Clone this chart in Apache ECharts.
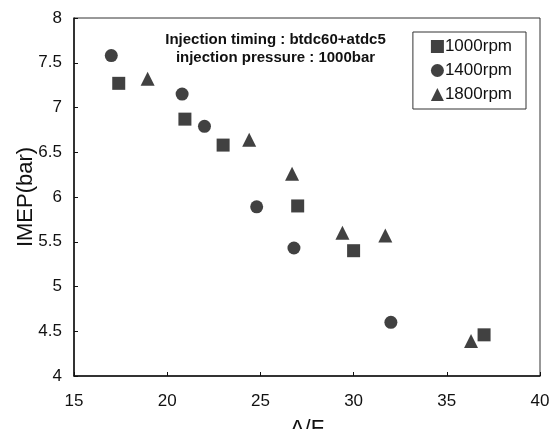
<!DOCTYPE html>
<html>
<head>
<meta charset="utf-8">
<script src="https://cdn.jsdelivr.net/npm/echarts@6/dist/echarts.min.js"></script>
<style>html,body{margin:0;padding:0;background:#fff;}#c{width:551px;height:429px;}</style>
</head>
<body>
<div id="c"></div>
<script>
var rpm1000 = [[17.4,7.27],[20.95,6.87],[23.0,6.58],[27.0,5.90],[30.0,5.40],[37.0,4.46]];
var rpm1400 = [[17.0,7.58],[20.8,7.15],[22.0,6.79],[24.8,5.89],[26.8,5.43],[32.0,4.60]];
var rpm1800 = [[18.95,7.32],[24.4,6.64],[26.7,6.26],[29.4,5.60],[31.7,5.57],[36.3,4.39]];
var seriesNames = ['1000rpm','1400rpm','1800rpm'];
var annotation = ['Injection timing : btdc60+atdc5','injection pressure : 1000bar'];

var chart = echarts.init(document.getElementById('c'), null, {renderer:'canvas'});
var font = 'Liberation Sans, Arial, sans-serif';
chart.setOption({
  animation:false,
  backgroundColor:'#fff',
  grid:{left:74,right:11,top:18,bottom:53,show:true,borderColor:'#333',borderWidth:1,
    containLabel:false,outerBoundsMode:'none'},
  xAxis:{type:'value',min:15,max:40,interval:5,name:'A/F',nameLocation:'middle',nameGap:42,
    nameMoveOverlap:false,
    nameTextStyle:{fontSize:22,color:'#111',fontFamily:font},
    axisLine:{lineStyle:{color:'#111',width:1.5}},
    axisTick:{inside:true,length:4,lineStyle:{color:'#111'}},
    axisLabel:{fontSize:17,color:'#111',fontFamily:font,margin:17},
    splitLine:{show:false}},
  yAxis:{type:'value',min:4,max:8,interval:0.5,name:'IMEP(bar)',nameLocation:'middle',nameGap:37,nameRotate:90,
    nameMoveOverlap:false,
    nameTextStyle:{fontSize:22,color:'#111',fontFamily:font},
    axisLine:{lineStyle:{color:'#111',width:1.5}},
    axisTick:{inside:true,length:4,lineStyle:{color:'#111'}},
    axisLabel:{fontSize:17,color:'#111',fontFamily:font,margin:12},
    splitLine:{show:false}},
  legend:{orient:'vertical',right:25,top:32,padding:[6,14,6,18],itemGap:7,
    itemWidth:13,itemHeight:13,borderColor:'#333',borderWidth:1,
    textStyle:{fontSize:17,color:'#111',fontFamily:font,padding:[0,0,0,-4]},
    data:seriesNames},
  graphic:[
    {type:'text',left:'center',top:31,style:{text:annotation[0]+'\n'+annotation[1],x:0,y:0,
      font:'bold 15px '+font,fill:'#111',textAlign:'center',lineHeight:18}}
  ],
  series:[
    {name:seriesNames[0],type:'scatter',symbol:'rect',symbolSize:13,itemStyle:{color:'#111'},data:rpm1000},
    {name:seriesNames[1],type:'scatter',symbol:'circle',symbolSize:13,itemStyle:{color:'#111'},data:rpm1400},
    {name:seriesNames[2],type:'scatter',symbol:'triangle',symbolSize:14,itemStyle:{color:'#111'},data:rpm1800}
  ]
});
</script>
</body>
</html>
